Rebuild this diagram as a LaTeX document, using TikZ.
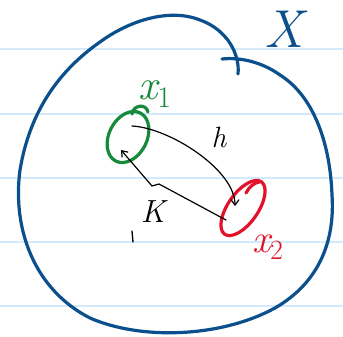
\documentclass[tikz,border=0pt]{standalone}
\usetikzlibrary{arrows.meta}
\definecolor{inkblue}{HTML}{0B4F8C}
\definecolor{inkgreen}{HTML}{17893A}
\definecolor{inkred}{HTML}{E3122B}
\definecolor{rule}{HTML}{D2EAFB}
\newcommand{\labsize}[1]{\fontsize{#1}{#1}\selectfont\itshape}
\tikzset{
  ruleline/.style={rule, line width=1.2pt},
  bluepen/.style={inkblue, line width=2.4pt, line cap=round, line join=round},
  greenpen/.style={inkgreen, line width=2.4pt, line cap=round},
  redpen/.style={inkred, line width=2.4pt, line cap=round},
  blackpen/.style={black, line width=0.9pt, line cap=round},
  lab/.style={inner sep=0pt},
}
\begin{document}
\begin{tikzpicture}[x=0.75pt,y=-0.75pt]
\useasboundingbox (0,0) rectangle (343,336);
\fill[white] (0,0) rectangle (343,336);
% ruled lines
\foreach \yy in {49,114,178,242,306} \draw[ruleline] (0,\yy) -- (343,\yy);
% outer region X
\draw[bluepen] (238,74) .. controls (240,55) and (228,30) .. (200,20)
  .. controls (170,8) and (130,20) .. (100,42)
  .. controls (60,70) and (30,110) .. (20,170)
  .. controls (12,230) and (35,290) .. (90,318)
  .. controls (140,340) and (220,338) .. (275,308)
  .. controls (320,282) and (335,240) .. (332,195)
  .. controls (330,140) and (312,95) .. (280,75)
  .. controls (262,62) and (240,57) .. (222,59);
\node[lab, text=inkblue, font=\labsize{40}] (X) at (284,29) {X};
% x1 green ellipse
\draw[greenpen, rotate around={-27:(128,137)}] (128,137) ellipse (19 and 27);
\draw[greenpen] (132,114) .. controls (133,105) and (146,103) .. (148,112);
\node[lab, text=inkgreen, font=\labsize{32}] (x1) at (155,94) {x\textsubscript{\upshape 1}};
% x2 red ellipse
\draw[redpen, rotate around={-35:(243,208)}] (243,208) ellipse (15 and 32);
\draw[redpen] (246,193) .. controls (249,187) and (254,183) .. (259,182);
\node[lab, text=inkred, font=\labsize{30}] (x2) at (268,247) {x\textsubscript{\upshape 2}};
% points
\coordinate (a1) at (132,126);
\coordinate (b2) at (235,206);
\coordinate (a2) at (226,220);
\coordinate (b1) at (121,150);
% h map
\draw[blackpen, -{Straight Barb[length=4pt,width=6pt]}] (a1) .. controls (170,128) and (235,170) .. (b2);
\node[lab, font=\labsize{22}] (h) at (219,137) {h};
% K path
\draw[blackpen, -{Straight Barb[length=4pt,width=6pt]}] (a2) -- (159,184) -- (152,186) -- (b1);
\node[lab, font=\labsize{24}] (K) at (153,212) {K};
\draw[blackpen, line width=1pt] (132,231) -- (133,242);
\end{tikzpicture}
\end{document}
